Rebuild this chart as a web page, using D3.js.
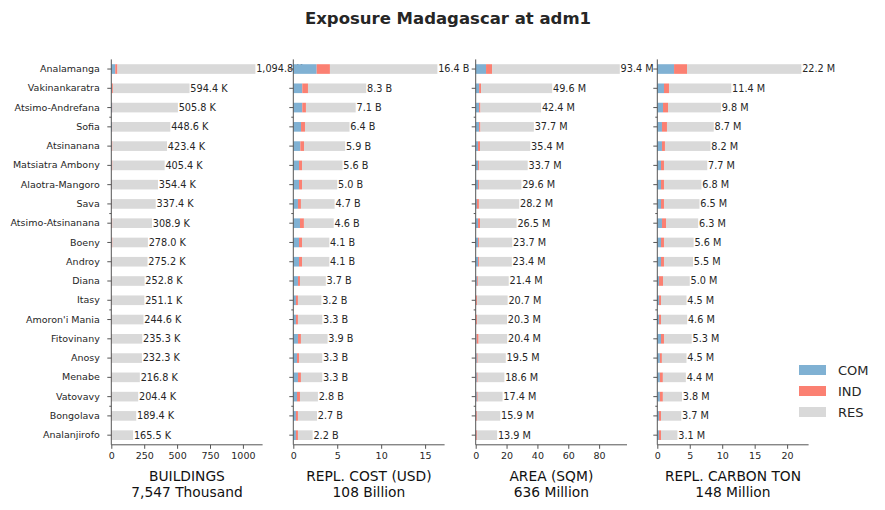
<!DOCTYPE html>
<html>
<head>
<meta charset="utf-8">
<script src="https://cdn.jsdelivr.net/npm/d3@7"></script>
<style>
  html, body { margin: 0; padding: 0; background: #fff; }
  svg { display: block; font-family: "DejaVu Sans", sans-serif; }
</style>
</head>
<body>
<svg id="chart" width="885" height="510"></svg>
<script>
const title = "Exposure Madagascar at adm1";
const regions = ["Analamanga","Vakinankaratra","Atsimo-Andrefana","Sofia","Atsinanana","Matsiatra Ambony","Alaotra-Mangoro","Sava","Atsimo-Atsinanana","Boeny","Androy","Diana","Itasy","Amoron'i Mania","Fitovinany","Anosy","Menabe","Vatovavy","Bongolava","Analanjirofo"];
const seriesNames = ["COM","IND","RES"];
const seriesColors = ["#80b1d3","#fb8072","#d9d9d9"];

// Buildings (thousand)
const bldCOM = [30,5,8,7,3,3,3,3,2,3,3,2,2,2,2,2,2,2,2,2];
const bldIND = [17,7,2,2,6,6,2,3,6,6,2,2,2,2,2,2,2,2,2,2];
const bldRES = [1047.8,582.4,495.8,439.6,414.4,396.4,349.4,331.4,300.9,269.0,270.2,248.8,247.1,240.6,231.3,228.3,212.8,200.4,185.4,161.5];
// Replacement cost (billion USD)
const costCOM = [2.66,1.02,1.02,0.88,0.80,0.65,0.65,0.53,0.76,0.65,0.65,0.53,0.30,0.30,0.53,0.42,0.53,0.42,0.30,0.30];
const costIND = [1.51,0.65,0.42,0.45,0.42,0.34,0.34,0.34,0.45,0.34,0.34,0.23,0.23,0.23,0.34,0.23,0.34,0.34,0.23,0.23];
const costRES = [12.23,6.63,5.66,5.07,4.68,4.61,4.01,3.83,3.39,3.11,3.11,2.94,2.67,2.77,3.03,2.65,2.43,2.04,2.17,1.67];
// Area (million sqm)
const areaCOM = [6.7,2.2,2.2,2.2,1.5,1.5,1.5,0.8,1.5,1.5,1.5,0.8,0.3,0.3,0.6,0.7,0.7,0.7,0.4,0.4];
const areaIND = [3.9,1.3,0.9,0.9,1.3,0.6,0.6,1.3,1.3,0.6,0.6,0.6,0.6,0.6,1.3,0.6,0.6,0.6,0.6,0.6];
const areaRES = [82.8,46.1,39.3,34.6,32.6,31.6,27.5,26.1,23.7,21.6,21.3,20.0,19.8,19.4,18.5,18.2,17.3,16.1,14.9,12.9];
// Replacement carbon (million ton)
const carbCOM = [2.58,1.03,0.88,0.72,0.72,0.57,0.57,0.57,0.72,0.57,0.57,0.26,0.26,0.26,0.57,0.40,0.40,0.40,0.26,0.26];
const carbIND = [2.00,0.77,0.77,0.77,0.46,0.46,0.46,0.46,0.62,0.46,0.46,0.62,0.31,0.31,0.46,0.31,0.46,0.46,0.31,0.31];
const carbRES = [17.62,9.60,8.15,7.21,7.02,6.67,5.77,5.47,4.96,4.57,4.47,4.12,3.93,4.03,4.27,3.79,3.54,2.94,3.13,2.53];

const panelTitles = ["BUILDINGS","REPL. COST (USD)","AREA (SQM)","REPL. CARBON TON"];
const panelTotals = ["7,547 Thousand","108 Billion","636 Million","148 Million"];
const panelUnits = ["K","B","M","M"];
const panelTicks = [[0,250,500,750,1000],[0,5,10,15],[0,20,40,60,80],[0,5,10,15,20]];
const minorTicks = [2.5,7.5,12.5,17.5];

const panels = [
  [bldCOM,bldIND,bldRES],
  [costCOM,costIND,costRES],
  [areaCOM,areaIND,areaRES],
  [carbCOM,carbIND,carbRES]
];

const svg = d3.select("#chart");
const lefts = [111.3, 293.3, 475.7, 657.3];
const pw = 151.3;
const yTop = 59.4, yBottom = 444.8;
const axisColor = "#555";
const textColor = "#262626";

svg.append("text").attr("x", 448).attr("y", 24)
  .attr("text-anchor","middle").attr("font-size","16.5px").attr("font-weight","bold")
  .attr("fill", textColor).text(title);

const y = d3.scaleBand().domain(regions).range([yTop, yBottom]).paddingInner(0.5).paddingOuter(0.25);
const yLin = d3.scaleLinear().domain([-0.5, regions.length - 0.5]).range([yTop, yBottom]);

panels.forEach((series, p) => {
  const totals = regions.map((r, i) => series[0][i] + series[1][i] + series[2][i]);
  const maxT = d3.max(totals);
  const x = d3.scaleLinear().domain([0, maxT * 1.05]).range([lefts[p], lefts[p] + pw]);
  const g = svg.append("g");

  // stacked bars
  const rows = regions.map((r, i) => ({region: r, COM: series[0][i], IND: series[1][i], RES: series[2][i]}));
  const stack = d3.stack().keys(seriesNames)(rows);
  stack.forEach((layer, k) => {
    g.append("g").attr("fill", seriesColors[k])
      .selectAll("rect").data(layer).join("rect")
      .attr("x", d => x(d[0]))
      .attr("width", d => Math.max(0, x(d[1]) - x(d[0])))
      .attr("y", d => y(d.data.region))
      .attr("height", y.bandwidth());
  });

  // value labels
  const fmt = p === 0 ? d3.format(",.1f") : d3.format(".1f");
  g.append("g").selectAll("text").data(regions).join("text")
    .attr("x", (r, i) => x(totals[i]) + 0.8)
    .attr("y", r => y(r) + y.bandwidth() / 2)
    .attr("dy", "0.35em")
    .attr("font-size", "9.7px")
    .attr("fill", textColor)
    .text((r, i) => fmt(totals[i]) + " " + panelUnits[p]);

  // y axis
  const yAxis = d3.axisLeft(y).tickSize(4).tickPadding(7.5);
  if (p > 0) yAxis.tickFormat("");
  const ya = g.append("g").attr("transform", `translate(${lefts[p]},0)`).call(yAxis);
  ya.select(".domain").attr("stroke", axisColor).attr("d", `M-0,${yTop}V${yBottom}`);
  ya.selectAll(".tick line").attr("stroke", axisColor);
  ya.selectAll(".tick text").attr("font-size", "9.5px").attr("fill", textColor).attr("font-family", "DejaVu Sans");
  g.append("g").selectAll("line").data(minorTicks).join("line")
    .attr("x1", lefts[p] - 2).attr("x2", lefts[p])
    .attr("y1", d => yLin(d)).attr("y2", d => yLin(d))
    .attr("stroke", axisColor);

  // x axis
  const xa = g.append("g").attr("transform", `translate(0,${yBottom})`)
    .call(d3.axisBottom(x).tickValues(panelTicks[p]).tickSize(4).tickPadding(3).tickFormat(d3.format("d")));
  xa.select(".domain").attr("stroke", axisColor).attr("d", `M${lefts[p]},0H${lefts[p] + pw}`);
  xa.selectAll(".tick line").attr("stroke", axisColor);
  xa.selectAll(".tick text").attr("font-size", "9.5px").attr("fill", textColor).attr("font-family", "DejaVu Sans");

  const cx = lefts[p] + pw / 2;
  g.append("text").attr("x", cx).attr("y", 481).attr("text-anchor","middle")
    .attr("font-size","13.8px").attr("fill", "#111").text(panelTitles[p]);
  g.append("text").attr("x", cx).attr("y", 497).attr("text-anchor","middle")
    .attr("font-size","13.8px").attr("fill", "#111").text(panelTotals[p]);
});

// legend
const lg = svg.append("g");
seriesNames.forEach((s, k) => {
  const cy = 370 + k * 21;
  lg.append("rect").attr("x", 799).attr("y", cy - 5).attr("width", 27).attr("height", 10).attr("fill", seriesColors[k]);
  lg.append("text").attr("x", 838).attr("y", cy).attr("dy","0.36em").attr("font-size","13px").attr("fill", textColor).text(s);
});
</script>
</body>
</html>
